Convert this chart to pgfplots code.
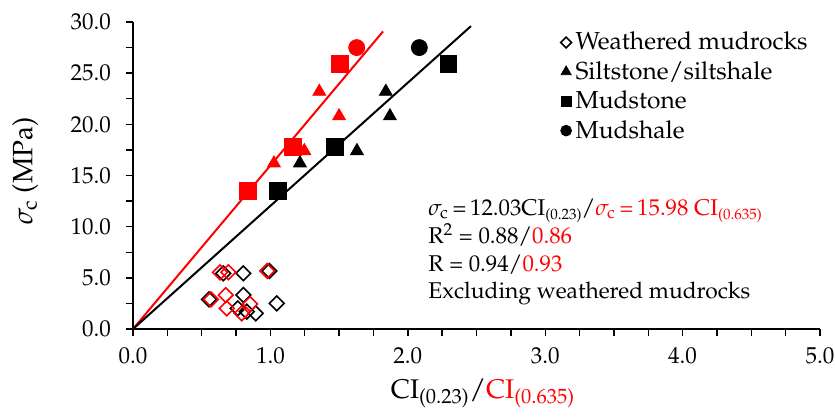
\documentclass[border=0pt]{standalone}
\usepackage[T1]{fontenc}
\usepackage{mathpazo}
\usepackage{pgfplots}
\pgfplotsset{compat=1.18}
\usepackage{xcolor}
\newcommand{\sub}[1]{{\fontsize{7.5}{8}\selectfont\raisebox{-2.4pt}{#1}}}
\begin{document}
\begin{tikzpicture}
\useasboundingbox (-66.5pt,-44pt) rectangle (351pt,164.5pt);
\begin{axis}[
  scale only axis, width=343.5pt, height=153.5pt,
  xmin=0, xmax=5, ymin=0, ymax=30,
  axis lines=left, axis line style={-, line width=0.7pt},
  xtick={0,1,2,3,4,5},
  minor xtick={0.25,0.5,0.75,1.25,1.5,1.75,2.25,2.5,2.75,3.25,3.5,3.75,4.25,4.5,4.75},
  ytick={0,5,10,15,20,25,30},
  minor ytick={2.5,7.5,12.5,17.5,22.5,27.5},
  tick align=outside, major tick length=3.5pt, minor tick length=3.5pt,
  every tick/.style={black, line width=0.7pt},
  every minor tick/.style={black, line width=0.7pt},
  x tick label style={/pgf/number format/.cd, fixed, fixed zerofill, precision=1, /tikz/.cd, font=\fontsize{11.5}{13}\selectfont, yshift=-2pt},
  y tick label style={/pgf/number format/.cd, fixed, fixed zerofill, precision=1, /tikz/.cd, font=\fontsize{11.5}{13}\selectfont, xshift=-4pt},
  /pgf/number format/assume math mode=true,
  xlabel={CI\textsubscript{(0.23)}/\textcolor{red}{CI\textsubscript{(0.635)}}},
  ylabel={$\sigma_{\mathrm{c}}$ (MPa)},
  xlabel style={font=\fontsize{13.5}{15}\selectfont, at={(axis description cs:0.5095,-0.2257)}, anchor=base},
  ylabel style={font=\fontsize{14}{16}\selectfont, at={(axis description cs:-0.157,0.515)}, anchor=center, rotate=0},
  legend style={at={(axis cs:3.11,29.45)}, anchor=north west, draw=none, fill=none,
    font=\fontsize{12.3}{14}\selectfont, row sep=0.3pt, inner sep=0pt,
    nodes={inner xsep=2pt}},
  legend cell align=left,
  clip=false,
]
% regression lines
\addplot[red, line width=1pt, forget plot] coordinates {(0,0) (1.82,29.08)};
\addplot[black, line width=1pt, forget plot] coordinates {(0,0) (2.46,29.6)};

% black series (legend)
\addplot[only marks, mark=square, mark size=2.6pt, mark options={rotate=45, line width=0.8pt, black, fill=none},
  legend image post style={mark size=1.9pt}] coordinates {
(0.553,2.90) (0.803,3.32) (0.762,2.02) (0.828,1.69) (0.893,1.53) (1.046,2.51)
(0.657,5.44) (0.803,5.44) (0.992,5.67)};
\addlegendentry{Weathered mudrocks}
\addplot[only marks, mark=triangle*, mark size=3.7pt, black,
  legend image post style={mark size=2.9pt}] coordinates {
(1.84,23.2) (1.87,20.8) (1.63,17.4) (1.215,16.2)};
\addlegendentry{Siltstone/siltshale}
\addplot[only marks, mark=square*, mark size=4.2pt, black,
  legend image post style={mark size=2.6pt}] coordinates {
(2.295,25.9) (1.47,17.8) (1.055,13.5)};
\addlegendentry{Mudstone}
\addplot[only marks, mark=*, mark size=4pt, black,
  legend image post style={mark size=2.7pt}] coordinates {
(2.084,27.5)};
\addlegendentry{Mudshale}

% red series
\addplot[only marks, mark=square, mark size=2.6pt, mark options={rotate=45, line width=0.8pt, red, fill=none}, forget plot] coordinates {
(0.568,2.90) (0.675,3.32) (0.682,2.02) (0.852,2.44) (0.791,1.53)
(0.633,5.54) (0.694,5.54) (0.977,5.67)};
\addplot[only marks, mark=triangle*, mark size=3.7pt, red, forget plot] coordinates {
(1.356,23.2) (1.50,20.8) (1.247,17.4) (1.026,16.2)};
\addplot[only marks, mark=square*, mark size=4.2pt, red, forget plot] coordinates {
(1.507,25.9) (1.162,17.8) (0.835,13.5)};
\addplot[only marks, mark=*, mark size=4pt, red, forget plot] coordinates {
(1.628,27.5)};

% annotations
\node[anchor=base west, font=\fontsize{11.4}{13}\selectfont, inner sep=0pt] at (axis cs:2.147,11.14)
  {$\sigma_{\mathrm{c}}$\,=\,12.03CI\sub{(0.23)}/\textcolor{red}{$\sigma_{\mathrm{c}}$\,=\,15.98 CI\sub{(0.635)}}};
\node[anchor=base west, font=\fontsize{11.4}{13}\selectfont, inner sep=0pt] at (axis cs:2.147,8.37)
  {R\textsuperscript{2} = 0.88/\textcolor{red}{0.86}};
\node[anchor=base west, font=\fontsize{11.4}{13}\selectfont, inner sep=0pt] at (axis cs:2.147,5.60)
  {R = 0.94/\textcolor{red}{0.93}};
\node[anchor=base west, font=\fontsize{11.4}{13}\selectfont, inner sep=0pt] at (axis cs:2.147,3.00)
  {Excluding weathered mudrocks};
\end{axis}
\end{tikzpicture}
\end{document}
